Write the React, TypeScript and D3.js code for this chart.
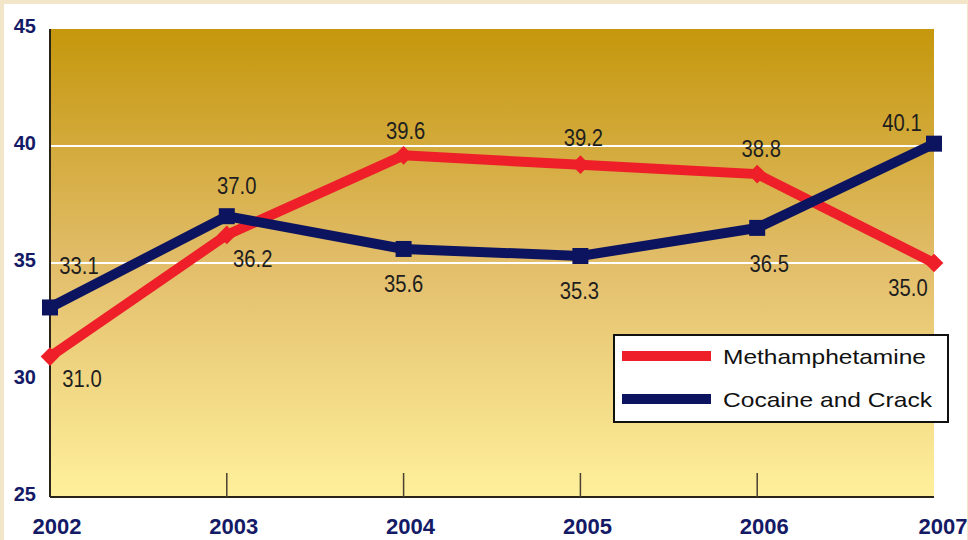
import * as d3 from "d3";

const years = [2002, 2003, 2004, 2005, 2006, 2007];
const meth = [31.0, 36.2, 39.6, 39.2, 38.8, 35.0];
const coke = [33.1, 37.0, 35.6, 35.3, 36.5, 40.1];
const yTicks = [25, 30, 35, 40, 45];
const gridValues = [35, 40];
const seriesNames = ["Methamphetamine", "Cocaine and Crack"];

// label offsets relative to the point [dx, dy] (text centre)
const methLabelPos = [[32, 22], [26, 24], [2, -25], [3, -27], [4, -25], [-26, 25]];
const cokeLabelPos = [[29, -42], [10, -30], [0, 35], [-1, 35], [12, 36], [-32, -21]];

const W = 968;
const H = 540;
const margin = { left: 50, right: 34, top: 29, bottom: 43 };

export default function App() {
  const x = d3.scaleLinear().domain([2002, 2007]).range([margin.left, W - margin.right]);
  const y = d3.scaleLinear().domain([25, 45]).range([H - margin.bottom, margin.top]);

  const line = d3
    .line<number>()
    .x((_, i) => x(years[i]))
    .y((d) => y(d));

  const diamond = d3.symbol().type(d3.symbolSquare).size(175)();
  const square = d3.symbol().type(d3.symbolSquare).size(256)();

  const plotTop = y(45);
  const plotBottom = y(25);
  const labelFont = "'Liberation Sans', Arial, sans-serif";

  const valueLabel = (key: string, v: number, i: number, off: number[]) => (
    <g key={key} transform={`translate(${x(years[i]) + off[0]},${y(v) + off[1]}) scale(0.88,1)`}>
      <text dy="0.36em" textAnchor="middle" fontFamily={labelFont} fontSize={23} fill="#1e1e1e">
        {v.toFixed(1)}
      </text>
    </g>
  );

  return (
    <svg
      width={W}
      height={H}
      style={{ position: "absolute", left: 0, top: 0, display: "block" }}
    >
      <defs>
        <linearGradient id="bg" x1="0" y1="0" x2="0" y2="1">
          <stop offset="0%" stopColor="#c5970c" />
          <stop offset="50%" stopColor="#e2bd6a" />
          <stop offset="100%" stopColor="#fff09c" />
        </linearGradient>
      </defs>
      <rect x={0} y={0} width={W} height={H} fill="#f2e5c8" />
      <rect x={4} y={4} width={W - 5} height={H - 4} fill="#ffffff" />

      <rect
        x={x(2002)}
        y={plotTop}
        width={x(2007) - x(2002)}
        height={plotBottom - plotTop}
        fill="url(#bg)"
      />

      {gridValues.map((v) => (
        <line
          key={v}
          x1={x(2002)}
          x2={x(2007)}
          y1={y(v)}
          y2={y(v)}
          stroke="#ffffff"
          strokeWidth={2}
        />
      ))}

      {/* axes */}
      <line x1={x(2002)} x2={x(2002)} y1={plotTop} y2={plotBottom} stroke="#2a2418" strokeWidth={2} />
      <line x1={x(2002)} x2={x(2007)} y1={plotBottom} y2={plotBottom} stroke="#2a2418" strokeWidth={2} />
      {years.slice(1, -1).map((yr) => (
        <line
          key={yr}
          x1={x(yr)}
          x2={x(yr)}
          y1={plotBottom - 24}
          y2={plotBottom}
          stroke="#4a4030"
          strokeWidth={1.5}
        />
      ))}

      {yTicks.map((t) => (
        <text
          key={t}
          x={36}
          y={y(t) - 3}
          dy="0.36em"
          textAnchor="end"
          fontFamily="Arial, 'Liberation Sans', sans-serif"
          fontWeight="bold"
          fontSize={20}
          fill="#141a66"
        >
          {t}
        </text>
      ))}
      {years.map((yr) => (
        <text
          key={yr}
          x={x(yr) + (yr === 2007 ? 9 : 7)}
          y={534}
          textAnchor="middle"
          fontFamily="Arial, 'Liberation Sans', sans-serif"
          fontWeight="bold"
          fontSize={22}
          fill="#141a66"
        >
          {yr}
        </text>
      ))}

      {/* series */}
      <path d={line(meth) ?? ""} fill="none" stroke="#ee1f29" strokeWidth={10} strokeLinejoin="miter" />
      {meth.map((v, i) => (
        <path
          key={i}
          d={diamond ?? ""}
          transform={`translate(${x(years[i])},${y(v)}) rotate(45)`}
          fill="#ee1f29"
        />
      ))}
      <path d={line(coke) ?? ""} fill="none" stroke="#0c1460" strokeWidth={10} strokeLinejoin="miter" />
      {coke.map((v, i) => (
        <path key={i} d={square ?? ""} transform={`translate(${x(years[i])},${y(v)})`} fill="#0c1460" />
      ))}

      {/* value labels */}
      {meth.map((v, i) => valueLabel("m" + i, v, i, methLabelPos[i]))}
      {coke.map((v, i) => valueLabel("c" + i, v, i, cokeLabelPos[i]))}

      {/* legend */}
      <g transform="translate(614,335)">
        <rect x={0} y={0} width={334} height={87} fill="#ffffff" stroke="#111111" strokeWidth={2} />
        {seriesNames.map((name, i) => (
          <g key={name} transform={`translate(0,${21 + i * 43})`}>
            <line x1={8} x2={97} y1={0} y2={0} stroke={i === 0 ? "#ee1f29" : "#0c1460"} strokeWidth={10} />
            <text
              x={109}
              y={0}
              dy="0.36em"
              fontFamily="Arial, 'Liberation Sans', sans-serif"
              fontSize={21}
              textLength={i === 0 ? 203 : 209}
              lengthAdjust="spacingAndGlyphs"
              fill="#111111"
            >
              {name}
            </text>
          </g>
        ))}
      </g>
    </svg>
  );
}
